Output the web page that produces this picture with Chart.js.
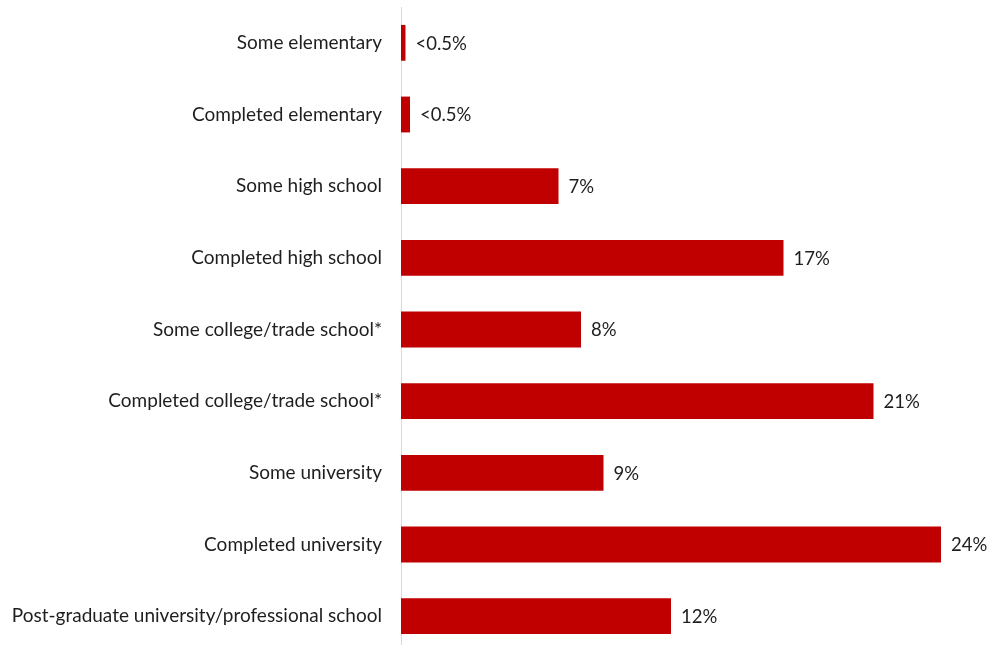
<!DOCTYPE html>
<html>
<head>
<meta charset="utf-8">
<script src="https://cdn.jsdelivr.net/npm/chart.js@4.4.1/dist/chart.umd.min.js"></script>
<style>
  html, body { margin: 0; padding: 0; background: #fff; overflow: hidden; }
  #wrap { position: relative; width: 988px; height: 652px; }
</style>
</head>
<body>
<div id="wrap"><canvas id="chart"></canvas></div>
<script>
var categories = [
  'Some elementary',
  'Completed elementary',
  'Some high school',
  'Completed high school',
  'Some college/trade school*',
  'Completed college/trade school*',
  'Some university',
  'Completed university',
  'Post-graduate university/professional school'
];
var shares = [0.2, 0.4, 7, 17, 8, 21, 9, 24, 12];
var shareLabels = ['<0.5%', '<0.5%', '7%', '17%', '8%', '21%', '9%', '24%', '12%'];

var fontFamily = 'Lato, "Open Sans", sans-serif';

// writes the value text just past the end of each bar
var barValues = {
  id: 'barValues',
  afterDatasetsDraw: function(chart) {
    var ctx = chart.ctx;
    var meta = chart.getDatasetMeta(0);
    ctx.save();
    ctx.font = '18.5px ' + fontFamily;
    ctx.fillStyle = '#1e1e1e';
    ctx.textAlign = 'left';
    ctx.textBaseline = 'middle';
    meta.data.forEach(function(bar, i) {
      ctx.fillText(shareLabels[i], bar.x + 10, bar.y + 1);
    });
    ctx.restore();
  }
};

var ctx = document.getElementById('chart');
new Chart(ctx, {
  type: 'bar',
  data: {
    labels: categories,
    datasets: [{
      data: shares,
      backgroundColor: '#c00000',
      borderWidth: 0,
      categoryPercentage: 1,
      barPercentage: 0.5
    }]
  },
  options: {
    indexAxis: 'y',
    responsive: true,
    maintainAspectRatio: false,
    animation: false,
    layout: { padding: { top: 7, right: 2, bottom: 0, left: 0 } },
    plugins: {
      legend: { display: false },
      tooltip: { enabled: false }
    },
    scales: {
      x: {
        display: false,
        min: 0,
        max: 26
      },
      y: {
        grid: { display: false, drawTicks: false },
        border: { display: true, color: '#d9d9d9', width: 1 },
        ticks: {
          color: '#1e1e1e',
          padding: 19,
          font: { family: fontFamily, size: 19 }
        },
        afterFit: function(scale) {
          scale.width = 401;
          scale.paddingTop = 0;
          scale.paddingBottom = 0;
        }
      }
    }
  },
  plugins: [barValues]
});
</script>
</body>
</html>
